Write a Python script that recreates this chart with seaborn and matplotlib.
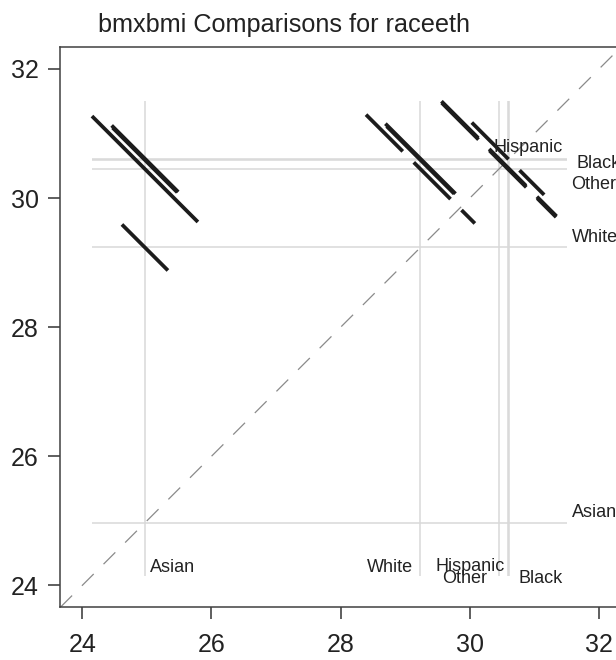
import numpy as np
import pandas as pd
import matplotlib
matplotlib.use("Agg")
import matplotlib.pyplot as plt
import seaborn as sns

# LS-means of BMI by race/ethnicity
groups = ["Asian", "White", "Other", "Hispanic", "Black"]
lsmeans = [24.97, 29.235, 30.45, 30.59, 30.61]

# Pairwise differences (high group minus low group) with confidence limits
pair_low = ["Asian", "Asian", "Asian", "Asian", "White", "White", "White", "Other", "Other", "Hispanic"]
pair_high = ["White", "Other", "Hispanic", "Black", "Other", "Hispanic", "Black", "Hispanic", "Black", "Black"]
ci_lower = [3.553, 3.84, 4.62, 4.61, -0.47, 0.31, 0.29, -1.63, -1.62, -1.10]
ci_upper = [4.977, 7.12, 6.62, 6.67, 2.90, 2.40, 2.46, 1.91, 1.94, 1.14]

ticks = [24, 26, 28, 30, 32]
title = "bmxbmi Comparisons for raceeth"

sns.set_theme(style="white")
plt.rcParams["font.family"] = ["Liberation Sans", "DejaVu Sans"]
plt.rcParams["lines.scale_dashes"] = False

mean_of = dict(zip(groups, lsmeans))

# Each comparison is a segment centred at (mean_low, mean_high), running
# perpendicular to the diagonal; its ends sit where high - low equals a CI limit.
rows = []
for k, (a, b, lo, hi) in enumerate(zip(pair_low, pair_high, ci_lower, ci_upper)):
    avg = (mean_of[a] + mean_of[b]) / 2.0
    sig = "Significant" if (lo > 0 or hi < 0) else "Not significant"
    for d in (hi, lo):
        rows.append({"pair": f"{a}-{b}", "x": avg - d / 2.0, "y": avg + d / 2.0, "sig": sig})
seg = pd.DataFrame(rows)

ref_lo = min(seg["x"].min(), seg["y"].min())
ref_hi = max(seg["x"].max(), seg["y"].max())

fig = plt.figure(figsize=(6.16, 6.60), dpi=100)
ax = fig.add_axes([60.3 / 616, 1 - 606.7 / 660, 560.4 / 616, 560.0 / 660])
lim = (23.66, 32.335)
ax.set_xlim(lim)
ax.set_ylim(23.67, 32.345)

# reference lines at each LS-mean
ax.vlines(lsmeans, ref_lo, ref_hi, color="#d9d9d9", lw=1.1, zorder=1)
ax.hlines(lsmeans, ref_lo, ref_hi, color="#d9d9d9", lw=1.1, zorder=1)

# diagonal of equal means
ax.plot([lim[0], 32.5], [lim[0], 32.5], color="#8a8a8a", lw=0.9,
        linestyle=(0, (12, 10)), zorder=2)

sns.lineplot(data=seg, x="x", y="y", units="pair", estimator=None, sort=True,
             style="sig", style_order=["Significant", "Not significant"],
             dashes={"Significant": "", "Not significant": (37.4, 11.2)},
             color="#1c1c1c", lw=2.7, legend=False, ax=ax,
             solid_capstyle="butt", dash_capstyle="butt", zorder=3)

# group labels along the bottom (dx from mean, baseline y)
bottom_labels = {
    "Asian": (0.075, 24.207, "left"),
    "White": (-0.115, 24.207, "right"),
    "Hispanic": (-0.59, 24.22, "center"),
    "Other": (-0.53, 24.04, "center"),
    "Black": (0.136, 24.037, "left"),
}
for g, (dx, yb, ha) in bottom_labels.items():
    ax.text(mean_of[g] + dx, yb, g, ha=ha, va="baseline", fontsize=13,
            color="#222222", zorder=4)

# group labels at the right (x, dy from mean)
right_labels = {
    "Asian": (31.573, 0.09),
    "White": (31.573, 0.08),
    "Other": (31.573, -0.31),
    "Black": (31.65, -0.144),
    "Hispanic": (30.37, 0.124),
}
for g, (xl, dy) in right_labels.items():
    ax.text(xl, mean_of[g] + dy, g, ha="left", va="baseline", fontsize=13,
            color="#222222", zorder=4, clip_on=False)

ax.set_xticks(ticks)
ax.set_yticks(ticks)
ax.set_xlabel("")
ax.set_ylabel("")
ax.tick_params(axis="both", which="major", direction="out", length=8.6, width=1.1,
               color="#333333", labelsize=18, labelcolor="#222222",
               bottom=True, left=True, top=False, right=False)
ax.tick_params(axis="x", pad=10.5)
ax.tick_params(axis="y", pad=7)
for s in ax.spines.values():
    s.set_visible(True)
    s.set_color("#404040")
    s.set_linewidth(1.1)

fig.text(283.5 / 616, 1 - 31.7 / 660, title, ha="center", va="baseline",
         fontsize=18.2, color="#222222")

fig.savefig("out.png", dpi=100)
